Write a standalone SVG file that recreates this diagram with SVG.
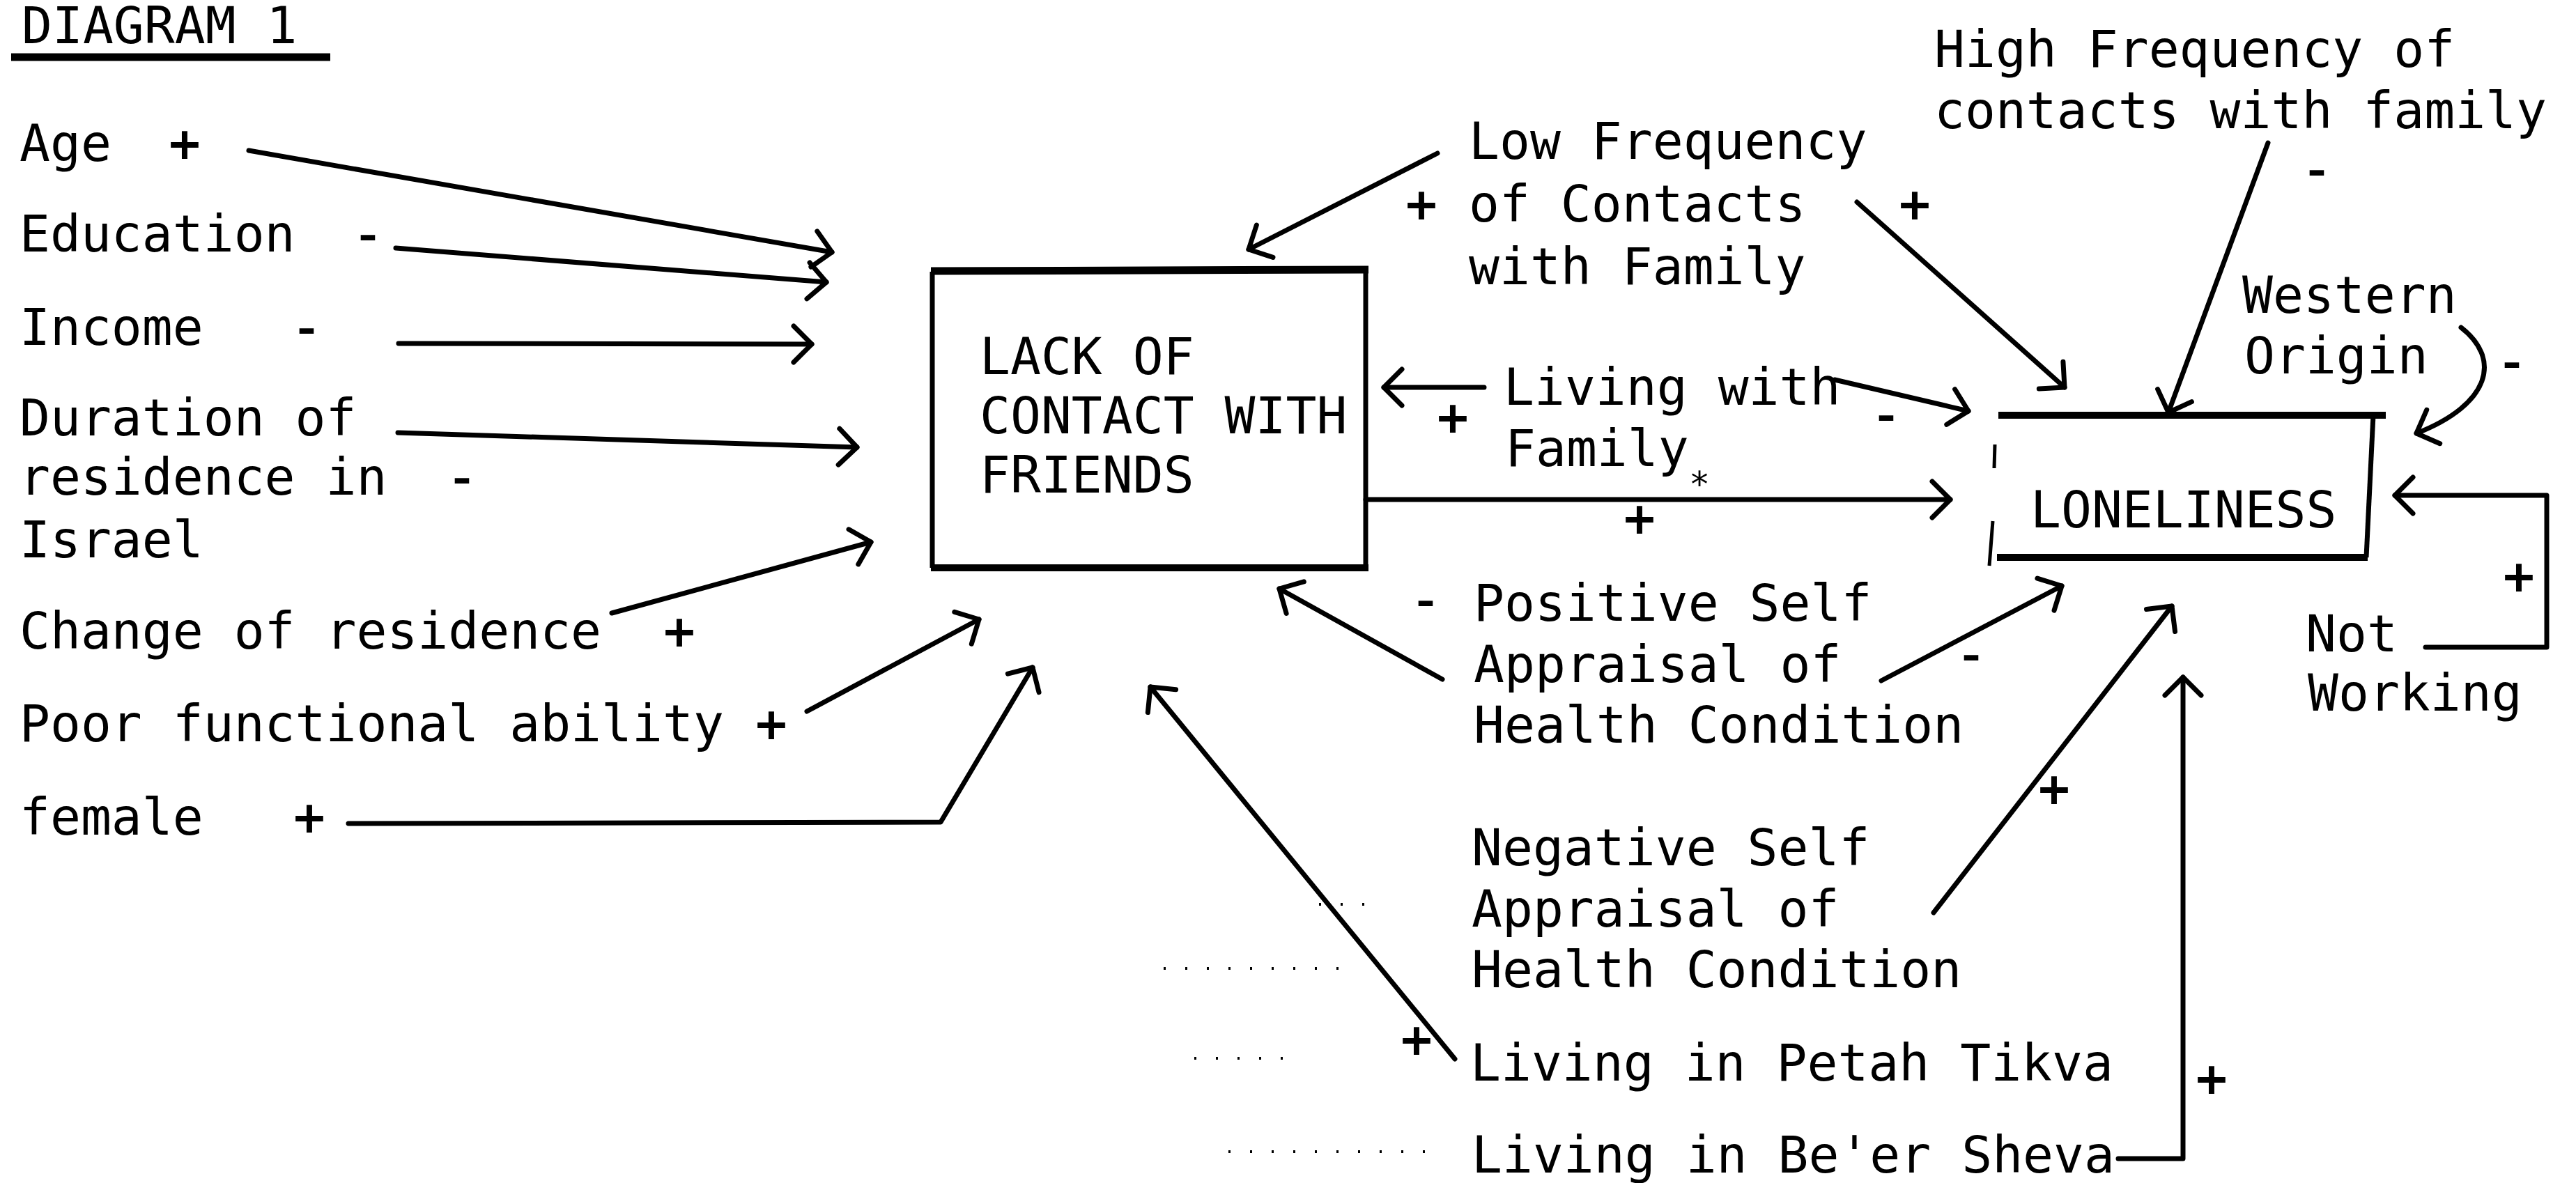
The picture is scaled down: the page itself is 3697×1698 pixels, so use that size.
<svg xmlns="http://www.w3.org/2000/svg" width="3697" height="1698" viewBox="0 0 3697 1698">
<style>
.t{font-family:"DejaVu Sans Mono","Liberation Mono",monospace;font-size:73px;fill:#000}
.s{font-family:"DejaVu Sans Mono","Liberation Mono",monospace;font-size:73px;fill:#000;text-anchor:middle;stroke:#000;stroke-width:2}
.c{fill:none;stroke:#000;stroke-width:7;stroke-linecap:round;stroke-linejoin:round}
.a{marker-end:url(#ah)}
.dot{fill:none;stroke:#000;stroke-width:4;stroke-dasharray:3 28}
</style>
<defs>
<marker id="ah" markerUnits="userSpaceOnUse" markerWidth="64" markerHeight="64" viewBox="0 0 64 64" refX="54" refY="32" orient="auto">
<path d="M28,6 L54,32 L28,58" fill="none" stroke="#000" stroke-width="7" stroke-linecap="round" stroke-linejoin="round"/>
</marker>
</defs>
<rect x="0" y="0" width="3697" height="1698" fill="#fff"/>

<g id="title">
<text class="t" x="31" y="62">DIAGRAM 1</text>
<line x1="16" y1="82" x2="474" y2="82" stroke="#000" stroke-width="11"/>
</g>

<g id="n-age"><text class="t" x="28" y="231">Age</text><text class="s" x="265" y="231">+</text></g>
<g id="n-education"><text class="t" x="28" y="361">Education</text><text class="s" x="528" y="361">-</text></g>
<g id="n-income"><text class="t" x="28" y="495">Income</text><text class="s" x="440" y="495">-</text></g>
<g id="n-duration"><text class="t" x="28" y="625">Duration of</text><text class="t" x="28" y="710">residence in</text><text class="s" x="663" y="710">-</text><text class="t" x="28" y="800">Israel</text></g>
<g id="n-change"><text class="t" x="28" y="931">Change of residence</text><text class="s" x="975" y="931">+</text></g>
<g id="n-poor"><text class="t" x="28" y="1064">Poor functional ability</text><text class="s" x="1107" y="1064">+</text></g>
<g id="n-female"><text class="t" x="28" y="1198">female</text><text class="s" x="444" y="1198">+</text></g>

<g id="n-lack">
<line x1="1338" y1="390" x2="1338" y2="815" stroke="#000" stroke-width="7"/>
<line x1="1960" y1="390" x2="1960" y2="815" stroke="#000" stroke-width="7"/>
<line x1="1336" y1="389" x2="1964" y2="387" stroke="#000" stroke-width="11"/>
<line x1="1336" y1="815" x2="1964" y2="815" stroke="#000" stroke-width="10"/>
<text class="t" x="1406" y="537">LACK OF</text>
<text class="t" x="1406" y="622">CONTACT WITH</text>
<text class="t" x="1406" y="707">FRIENDS</text>
</g>

<g id="n-loneliness">
<line x1="2868" y1="596" x2="3424" y2="596" stroke="#000" stroke-width="10"/>
<line x1="3406" y1="596" x2="3396" y2="800" stroke="#000" stroke-width="7"/>
<line x1="2866" y1="800" x2="3398" y2="800" stroke="#000" stroke-width="10"/>
<path d="M2863,638 L2862,672 M2860,748 L2855,812" fill="none" stroke="#000" stroke-width="5"/>
<text class="t" x="2914" y="757">LONELINESS</text>
</g>

<g id="n-lowfreq">
<text class="t" x="2108" y="228">Low Frequency</text>
<text class="s" x="2040" y="318">+</text>
<text class="t" x="2108" y="318">of Contacts</text>
<text class="s" x="2748" y="318">+</text>
<text class="t" x="2108" y="408">with Family</text>
</g>

<g id="n-highfreq">
<text class="t" x="2776" y="96">High Frequency of</text>
<text class="t" x="2776" y="184">contacts with family</text>
<text class="s" x="3325" y="268">-</text>
</g>

<g id="n-western">
<text class="t" x="3218" y="449">Western</text>
<text class="t" x="3221" y="536">Origin</text>
<text class="s" x="3605" y="544">-</text>
</g>

<g id="n-livingwith">
<text class="t" x="2158" y="581">Living with</text>
<text class="t" x="2160" y="669">Family</text>
<text class="t" x="2424" y="712" style="font-size:50px">*</text>
<text class="s" x="2085" y="624">+</text>
<text class="s" x="2707" y="620">-</text>
<text class="s" x="2353" y="769">+</text>
</g>

<g id="n-positive">
<text class="s" x="2046" y="886">-</text>
<text class="t" x="2115" y="891">Positive Self</text>
<text class="t" x="2115" y="979">Appraisal of</text>
<text class="t" x="2115" y="1066">Health Condition</text>
<text class="s" x="2829" y="964">-</text>
</g>

<g id="n-negative">
<text class="t" x="2112" y="1242">Negative Self</text>
<text class="t" x="2112" y="1330">Appraisal of</text>
<text class="t" x="2112" y="1417">Health Condition</text>
<text class="s" x="2948" y="1157">+</text>
</g>

<g id="n-petah">
<text class="t" x="2110" y="1551">Living in Petah Tikva</text>
<text class="s" x="2033" y="1517">+</text>
</g>

<g id="n-beer">
<text class="t" x="2112" y="1683">Living in Be'er Sheva</text>
<text class="s" x="3174" y="1573">+</text>
</g>

<g id="n-notworking">
<text class="t" x="3309" y="935">Not</text>
<text class="t" x="3312" y="1020">Working</text>
<text class="s" x="3615" y="852">+</text>
</g>

<g id="dots">
<line class="dot" x1="1893" y1="1298" x2="1985" y2="1298"/>
<line class="dot" x1="1670" y1="1390" x2="1940" y2="1390"/>
<line class="dot" x1="1714" y1="1519" x2="1855" y2="1519"/>
<line class="dot" x1="1763" y1="1653" x2="2070" y2="1653"/>
</g>

<g id="connectors">
<path class="c a" d="M357,216 L1194,362"/>
<path class="c a" d="M568,356 L1186,405"/>
<path class="c a" d="M572,493 L1165,494"/>
<path class="c a" d="M571,621 L1230,642"/>
<path class="c a" d="M878,880 L1250,778"/>
<path class="c a" d="M1158,1021 L1405,889"/>
<path class="c a" d="M500,1182 L1350,1180 L1482,958"/>
<path class="c a" d="M2063,220 L1792,358"/>
<path class="c a" d="M2665,290 L2963,556"/>
<path class="c a" d="M3255,205 L3112,592"/>
<path class="c a" d="M3532,470 C3590,515 3575,580 3468,622"/>
<path class="c a" d="M2130,556 L1986,556"/>
<path class="c a" d="M2633,545 L2825,590"/>
<path class="c a" d="M1960,717 L2799,717"/>
<path class="c a" d="M2070,975 L1836,845"/>
<path class="c a" d="M2700,977 L2959,841"/>
<path class="c a" d="M2775,1310 L3117,870"/>
<path class="c a" d="M2088,1520 L1651,986"/>
<path class="c a" d="M3040,1663 L3133,1663 L3133,972"/>
<path class="c a" d="M3481,929 L3655,929 L3655,711 L3437,711"/>
</g>
</svg>
